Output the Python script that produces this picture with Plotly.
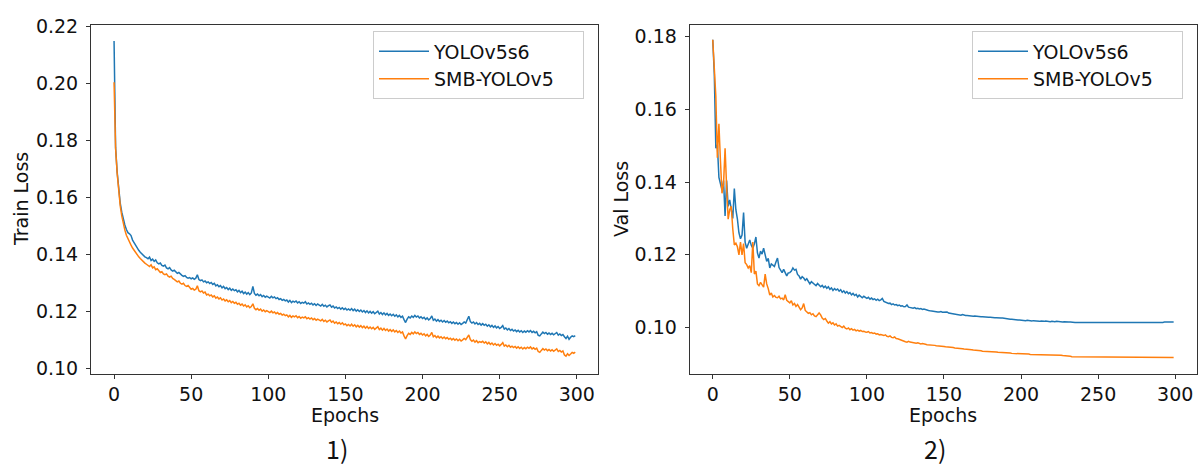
import plotly.graph_objects as go

epochs = list(range(300))

train_yolov5s6 = [
    0.2150, 0.1775, 0.1690, 0.1625, 0.1580, 0.1548, 0.1522, 0.1503, 0.1487, 0.1476,
    0.1472, 0.1466, 0.1450, 0.1440, 0.1430, 0.1421, 0.1414, 0.1407, 0.1401, 0.1396,
    0.1391, 0.1388, 0.1384, 0.1390, 0.1378, 0.1383, 0.1375, 0.1380, 0.1370, 0.1366,
    0.1369, 0.1361, 0.1358, 0.1362, 0.1352, 0.1349, 0.1353, 0.1345, 0.1341, 0.1344,
    0.1337, 0.1333, 0.1336, 0.1330, 0.1326, 0.1322, 0.1325, 0.1319, 0.1316, 0.1318,
    0.1314, 0.1317, 0.1312, 0.1316, 0.1328, 0.1311, 0.1307, 0.1310, 0.1303, 0.1306,
    0.1300, 0.1303, 0.1297, 0.1301, 0.1294, 0.1298, 0.1289, 0.1293, 0.1286, 0.1290,
    0.1282, 0.1287, 0.1279, 0.1283, 0.1276, 0.1281, 0.1273, 0.1278, 0.1272, 0.1275,
    0.1268, 0.1273, 0.1265, 0.1270, 0.1262, 0.1267, 0.1260, 0.1265, 0.1258, 0.1264,
    0.1287, 0.1262, 0.1256, 0.1260, 0.1254, 0.1258, 0.1251, 0.1255, 0.1249, 0.1253,
    0.1250, 0.1246, 0.1252, 0.1247, 0.1250, 0.1244, 0.1247, 0.1241, 0.1244, 0.1238,
    0.1241, 0.1236, 0.1239, 0.1232, 0.1238, 0.1230, 0.1235, 0.1232, 0.1236, 0.1229,
    0.1233, 0.1227, 0.1231, 0.1228, 0.1233, 0.1225, 0.1229, 0.1224, 0.1228, 0.1222,
    0.1226, 0.1220, 0.1225, 0.1221, 0.1218, 0.1224, 0.1217, 0.1221, 0.1215, 0.1219,
    0.1222, 0.1214, 0.1218, 0.1211, 0.1215, 0.1209, 0.1213, 0.1207, 0.1212, 0.1206,
    0.1210, 0.1204, 0.1208, 0.1203, 0.1209, 0.1202, 0.1207, 0.1200, 0.1205, 0.1199,
    0.1204, 0.1197, 0.1202, 0.1195, 0.1201, 0.1194, 0.1199, 0.1193, 0.1198, 0.1191,
    0.1196, 0.1200, 0.1190, 0.1195, 0.1188, 0.1194, 0.1187, 0.1192, 0.1185, 0.1190,
    0.1184, 0.1189, 0.1182, 0.1187, 0.1180, 0.1185, 0.1178, 0.1182, 0.1170, 0.1160,
    0.1172, 0.1180, 0.1176, 0.1183, 0.1178, 0.1185, 0.1179, 0.1183, 0.1176, 0.1180,
    0.1174, 0.1178, 0.1171, 0.1176, 0.1169, 0.1174, 0.1183, 0.1168, 0.1172, 0.1165,
    0.1170, 0.1164, 0.1168, 0.1162, 0.1167, 0.1161, 0.1165, 0.1159, 0.1163, 0.1157,
    0.1162, 0.1156, 0.1160, 0.1154, 0.1159, 0.1153, 0.1157, 0.1162, 0.1158, 0.1170,
    0.1182, 0.1163, 0.1158, 0.1162, 0.1155, 0.1160, 0.1153, 0.1157, 0.1151, 0.1156,
    0.1150, 0.1154, 0.1147, 0.1152, 0.1145, 0.1150, 0.1143, 0.1148, 0.1141, 0.1146,
    0.1139, 0.1143, 0.1149, 0.1137, 0.1141, 0.1134, 0.1139, 0.1132, 0.1136, 0.1130,
    0.1134, 0.1128, 0.1133, 0.1127, 0.1131, 0.1125, 0.1130, 0.1126, 0.1131, 0.1127,
    0.1132, 0.1125, 0.1129, 0.1124, 0.1128, 0.1115, 0.1113, 0.1120, 0.1126, 0.1121,
    0.1125, 0.1119, 0.1123, 0.1118, 0.1122, 0.1117, 0.1121, 0.1125, 0.1116, 0.1120,
    0.1114, 0.1118, 0.1110, 0.1104, 0.1112, 0.1101, 0.1108, 0.1113, 0.1110, 0.1114,
]

train_smb = [
    0.2005, 0.1772, 0.1686, 0.1618, 0.1570, 0.1535, 0.1507, 0.1485, 0.1467, 0.1453,
    0.1443, 0.1432, 0.1422, 0.1413, 0.1405, 0.1398, 0.1391, 0.1385, 0.1379, 0.1374,
    0.1369, 0.1365, 0.1361, 0.1357, 0.1363, 0.1352, 0.1356, 0.1346, 0.1349, 0.1340,
    0.1336, 0.1339, 0.1331, 0.1328, 0.1331, 0.1323, 0.1320, 0.1323, 0.1315, 0.1312,
    0.1306, 0.1303, 0.1306, 0.1298, 0.1295, 0.1298, 0.1290, 0.1287, 0.1290, 0.1282,
    0.1277, 0.1280, 0.1274, 0.1277, 0.1289, 0.1272, 0.1268, 0.1271, 0.1264, 0.1267,
    0.1257, 0.1260, 0.1254, 0.1257, 0.1250, 0.1254, 0.1246, 0.1250, 0.1243, 0.1247,
    0.1239, 0.1243, 0.1236, 0.1240, 0.1233, 0.1237, 0.1230, 0.1234, 0.1228, 0.1231,
    0.1224, 0.1228, 0.1221, 0.1225, 0.1218, 0.1222, 0.1215, 0.1219, 0.1212, 0.1216,
    0.1226, 0.1210, 0.1205, 0.1209, 0.1203, 0.1207, 0.1200, 0.1204, 0.1198, 0.1202,
    0.1199, 0.1195, 0.1200, 0.1194, 0.1197, 0.1191, 0.1195, 0.1189, 0.1192, 0.1186,
    0.1189, 0.1184, 0.1187, 0.1180, 0.1185, 0.1178, 0.1183, 0.1180, 0.1184, 0.1177,
    0.1181, 0.1175, 0.1179, 0.1176, 0.1180, 0.1173, 0.1177, 0.1172, 0.1176, 0.1170,
    0.1174, 0.1168, 0.1172, 0.1169, 0.1166, 0.1171, 0.1164, 0.1168, 0.1162, 0.1166,
    0.1169, 0.1161, 0.1165, 0.1158, 0.1162, 0.1156, 0.1160, 0.1154, 0.1159, 0.1152,
    0.1155, 0.1149, 0.1153, 0.1148, 0.1154, 0.1147, 0.1152, 0.1145, 0.1150, 0.1144,
    0.1149, 0.1142, 0.1147, 0.1140, 0.1146, 0.1139, 0.1144, 0.1138, 0.1143, 0.1136,
    0.1141, 0.1145, 0.1135, 0.1140, 0.1133, 0.1139, 0.1132, 0.1137, 0.1130, 0.1135,
    0.1129, 0.1134, 0.1127, 0.1132, 0.1125, 0.1130, 0.1123, 0.1127, 0.1113, 0.1102,
    0.1114, 0.1122, 0.1118, 0.1125, 0.1120, 0.1127, 0.1121, 0.1125, 0.1118, 0.1122,
    0.1116, 0.1120, 0.1113, 0.1118, 0.1111, 0.1116, 0.1125, 0.1110, 0.1114, 0.1107,
    0.1112, 0.1106, 0.1110, 0.1104, 0.1109, 0.1103, 0.1107, 0.1101, 0.1105, 0.1099,
    0.1104, 0.1098, 0.1102, 0.1096, 0.1101, 0.1095, 0.1099, 0.1104, 0.1100, 0.1108,
    0.1116, 0.1100, 0.1094, 0.1098, 0.1091, 0.1096, 0.1089, 0.1093, 0.1090, 0.1094,
    0.1088, 0.1092, 0.1085, 0.1090, 0.1083, 0.1088, 0.1081, 0.1086, 0.1080, 0.1084,
    0.1078, 0.1083, 0.1089, 0.1077, 0.1081, 0.1075, 0.1080, 0.1073, 0.1077, 0.1072,
    0.1076, 0.1070, 0.1075, 0.1069, 0.1073, 0.1067, 0.1072, 0.1068, 0.1073, 0.1069,
    0.1074, 0.1067, 0.1071, 0.1066, 0.1070, 0.1058, 0.1055, 0.1062, 0.1068, 0.1063,
    0.1067, 0.1061, 0.1065, 0.1060, 0.1064, 0.1059, 0.1063, 0.1067, 0.1058, 0.1062,
    0.1056, 0.1060, 0.1046, 0.1042, 0.1050, 0.1044, 0.1049, 0.1055, 0.1052, 0.1056,
]

val_yolov5s6 = [
    0.1791, 0.1698, 0.1493, 0.1502, 0.1413, 0.1395, 0.1378, 0.1404, 0.1307, 0.1404,
    0.1333, 0.1351, 0.1324, 0.1300, 0.1382, 0.1324, 0.1298, 0.1260, 0.1244, 0.1254,
    0.1316, 0.1235, 0.1218, 0.1232, 0.1241, 0.1226, 0.1218, 0.1230, 0.1249, 0.1205,
    0.1191, 0.1210, 0.1202, 0.1218, 0.1195, 0.1182, 0.1190, 0.1164, 0.1175, 0.1170,
    0.1168, 0.1180, 0.1191, 0.1165, 0.1158, 0.1151, 0.1160, 0.1148, 0.1142, 0.1150,
    0.1151, 0.1155, 0.1164, 0.1158, 0.1160, 0.1146, 0.1142, 0.1133, 0.1140, 0.1136,
    0.1130, 0.1134, 0.1128, 0.1120, 0.1126, 0.1122, 0.1118, 0.1115, 0.1121, 0.1117,
    0.1112, 0.1116, 0.1110, 0.1114, 0.1108, 0.1112, 0.1105, 0.1109, 0.1102, 0.1107,
    0.1103, 0.1106, 0.1100, 0.1104, 0.1097, 0.1101, 0.1095, 0.1099, 0.1093, 0.1096,
    0.1090, 0.1094, 0.1088, 0.1091, 0.1084, 0.1089, 0.1085, 0.1082, 0.1086, 0.1083,
    0.1080, 0.1083, 0.1078, 0.1081, 0.1077, 0.1079, 0.1075, 0.1078, 0.1074, 0.1076,
    0.1080, 0.1072, 0.1070, 0.1068, 0.1066, 0.1067, 0.1063, 0.1065, 0.1062, 0.1063,
    0.1060, 0.1062, 0.1059, 0.1060, 0.1057, 0.1058, 0.1062, 0.1056, 0.1055, 0.1054,
    0.1053, 0.1055, 0.1052, 0.1053, 0.1051, 0.1052, 0.1050, 0.1051, 0.1049, 0.1049,
    0.1047, 0.1046, 0.1045, 0.1045, 0.1044, 0.1044, 0.1043, 0.1043, 0.1044, 0.1042,
    0.1042, 0.1041, 0.1043, 0.1040, 0.1039, 0.1038, 0.1037, 0.1036, 0.1036, 0.1035,
    0.1035, 0.1034, 0.1036, 0.1034, 0.1033, 0.1033, 0.1032, 0.1033, 0.1032, 0.1031,
    0.1032, 0.1031, 0.1030, 0.1031, 0.1030, 0.1030, 0.1029, 0.1030, 0.1029, 0.1028,
    0.1028, 0.1027, 0.1028, 0.1027, 0.1027, 0.1026, 0.1027, 0.1026, 0.1026, 0.1025,
    0.1025, 0.1024, 0.1024, 0.1023, 0.1023, 0.1022, 0.1022, 0.1021, 0.1021, 0.1021,
    0.1020, 0.1020, 0.1020, 0.1019, 0.1020, 0.1019, 0.1019, 0.1018, 0.1019, 0.1018,
    0.1018, 0.1018, 0.1017, 0.1018, 0.1017, 0.1017, 0.1018, 0.1017, 0.1017, 0.1016,
    0.1017, 0.1016, 0.1016, 0.1017, 0.1016, 0.1016, 0.1016, 0.1015, 0.1016, 0.1015,
    0.1015, 0.1015, 0.1015, 0.1014, 0.1015, 0.1014, 0.1014, 0.1014, 0.1014, 0.1014,
    0.1014, 0.1013, 0.1014, 0.1013, 0.1013, 0.1013, 0.1013, 0.1013, 0.1013, 0.1013,
    0.1013, 0.1013, 0.1012, 0.1013, 0.1012, 0.1012, 0.1012, 0.1012, 0.1012, 0.1012,
    0.1012, 0.1012, 0.1012, 0.1012, 0.1012, 0.1012, 0.1012, 0.1012, 0.1012, 0.1012,
    0.1012, 0.1012, 0.1012, 0.1012, 0.1013, 0.1013, 0.1013, 0.1013, 0.1013, 0.1013,
    0.1013, 0.1013, 0.1013, 0.1013, 0.1013, 0.1014, 0.1014, 0.1014, 0.1014, 0.1014,
    0.1014, 0.1014, 0.1014, 0.1015, 0.1015, 0.1015, 0.1015, 0.1015, 0.1015, 0.1015,
]

val_smb = [
    0.1791, 0.1689, 0.1636, 0.1467, 0.1560, 0.1458, 0.1369, 0.1395, 0.1493, 0.1387,
    0.1298, 0.1324, 0.1333, 0.1271, 0.1227, 0.1232, 0.1222, 0.1200, 0.1235, 0.1200,
    0.1231, 0.1178, 0.1173, 0.1164, 0.1170, 0.1151, 0.1235, 0.1147, 0.1155, 0.1120,
    0.1115, 0.1124, 0.1118, 0.1111, 0.1147, 0.1120, 0.1107, 0.1089, 0.1095, 0.1084,
    0.1088, 0.1083, 0.1082, 0.1086, 0.1079, 0.1081, 0.1076, 0.1090, 0.1075, 0.1072,
    0.1068, 0.1074, 0.1062, 0.1066, 0.1058, 0.1063, 0.1055, 0.1049, 0.1054, 0.1066,
    0.1047, 0.1043, 0.1039, 0.1041, 0.1035, 0.1038, 0.1032, 0.1030, 0.1036, 0.1040,
    0.1035, 0.1026, 0.1022, 0.1025, 0.1018, 0.1012, 0.1016, 0.1010, 0.1013, 0.1007,
    0.1010, 0.1004, 0.1006, 0.1002, 0.1000, 0.1004, 0.0998, 0.0996, 0.0999, 0.0994,
    0.0997, 0.0993, 0.0995, 0.0991, 0.0993, 0.0990, 0.0992, 0.0989, 0.0990, 0.0988,
    0.0987, 0.0989, 0.0985, 0.0986, 0.0984, 0.0985, 0.0982, 0.0983, 0.0980, 0.0981,
    0.0979, 0.0978, 0.0980, 0.0976, 0.0975, 0.0977, 0.0973, 0.0972, 0.0974, 0.0970,
    0.0969, 0.0967, 0.0965, 0.0964, 0.0962, 0.0961, 0.0960, 0.0962, 0.0960, 0.0959,
    0.0960, 0.0958, 0.0957, 0.0958, 0.0956, 0.0955, 0.0956, 0.0954, 0.0954, 0.0953,
    0.0953, 0.0952, 0.0952, 0.0951, 0.0951, 0.0950, 0.0950, 0.0949, 0.0949, 0.0948,
    0.0948, 0.0947, 0.0947, 0.0946, 0.0946, 0.0945, 0.0945, 0.0944, 0.0944, 0.0943,
    0.0943, 0.0942, 0.0942, 0.0941, 0.0941, 0.0940, 0.0940, 0.0939, 0.0939, 0.0938,
    0.0938, 0.0937, 0.0937, 0.0936, 0.0936, 0.0935, 0.0935, 0.0934, 0.0934, 0.0934,
    0.0933, 0.0933, 0.0934, 0.0933, 0.0933, 0.0932, 0.0932, 0.0932, 0.0931, 0.0931,
    0.0931, 0.0930, 0.0930, 0.0930, 0.0929, 0.0929, 0.0929, 0.0929, 0.0928, 0.0928,
    0.0928, 0.0928, 0.0927, 0.0927, 0.0927, 0.0927, 0.0926, 0.0926, 0.0926, 0.0926,
    0.0926, 0.0926, 0.0925, 0.0925, 0.0925, 0.0925, 0.0925, 0.0925, 0.0925, 0.0925,
    0.0925, 0.0925, 0.0925, 0.0925, 0.0925, 0.0924, 0.0924, 0.0923, 0.0923, 0.0922,
    0.0922, 0.0921, 0.0921, 0.0920, 0.0920, 0.0920, 0.0919, 0.0919, 0.0919, 0.0919,
    0.0919, 0.0919, 0.0918, 0.0918, 0.0918, 0.0918, 0.0918, 0.0918, 0.0918, 0.0918,
    0.0918, 0.0918, 0.0918, 0.0918, 0.0918, 0.0918, 0.0918, 0.0918, 0.0918, 0.0918,
    0.0918, 0.0918, 0.0918, 0.0918, 0.0918, 0.0918, 0.0918, 0.0918, 0.0918, 0.0918,
    0.0918, 0.0918, 0.0918, 0.0918, 0.0918, 0.0918, 0.0918, 0.0918, 0.0918, 0.0918,
    0.0918, 0.0918, 0.0918, 0.0918, 0.0918, 0.0918, 0.0918, 0.0918, 0.0918, 0.0918,
    0.0918, 0.0918, 0.0918, 0.0918, 0.0918, 0.0918, 0.0918, 0.0918, 0.0918, 0.0918,
]

series_names = ["YOLOv5s6", "SMB-YOLOv5"]
colors = ["#1f77b4", "#ff7f0e"]
x_ticks = [0, 50, 100, 150, 200, 250, 300]
train_ticks = [0.10, 0.12, 0.14, 0.16, 0.18, 0.20, 0.22]
val_ticks = [0.10, 0.12, 0.14, 0.16, 0.18]
panel_labels = ["1)", "2)"]
y_titles = ["Train Loss", "Val Loss"]

W, H = 1202, 471
FONT = "DejaVu Sans"
AX = "#333333"
TXT = "#111111"
FS = 19

fig = go.Figure()
pad = "\u00a0\u00a0\u00a0\u00a0"
for ys, name, col in zip([train_yolov5s6, train_smb], series_names, colors):
    fig.add_trace(go.Scatter(x=epochs, y=ys, mode="lines", name=name + pad,
                             line=dict(color=col, width=1.5),
                             xaxis="x", yaxis="y", legend="legend"))
for ys, name, col in zip([val_yolov5s6, val_smb], series_names, colors):
    fig.add_trace(go.Scatter(x=epochs, y=ys, mode="lines", name=name + pad,
                             line=dict(color=col, width=1.5),
                             xaxis="x2", yaxis="y2", legend="legend2"))

ydom = [1 - 375.7 / H, 1 - 16 / H]
xd1 = [91 / W, 598.3 / W]
xd2 = [689.7 / W, 1196.7 / W]

axis_common = dict(showline=True, linecolor=AX, linewidth=1, mirror=True,
                   ticks="outside", ticklen=4, tickwidth=1, tickcolor=AX,
                   showgrid=False, zeroline=False,
                   tickfont=dict(family=FONT, size=FS, color=TXT))

legend_common = dict(xanchor="left", yanchor="top", bgcolor="white",
                     bordercolor="#cccccc", borderwidth=1, itemwidth=50,
                     font=dict(family=FONT, size=FS, color=TXT))

fig.update_layout(
    width=W, height=H,
    margin=dict(l=0, r=0, t=0, b=0),
    paper_bgcolor="white", plot_bgcolor="white",
    font=dict(family=FONT, size=FS, color=TXT),
    xaxis=dict(domain=xd1, range=[-14.95, 313.95], tickvals=x_ticks,
               anchor="y", **axis_common),
    yaxis=dict(domain=ydom, range=[0.09806, 0.2208], tickvals=train_ticks,
               tickformat=".2f", anchor="x", ticklabelstandoff=4, **axis_common),
    xaxis2=dict(domain=xd2, range=[-14.95, 313.95], tickvals=x_ticks,
                anchor="y2", **axis_common),
    yaxis2=dict(domain=ydom, range=[0.08736, 0.1833], tickvals=val_ticks,
                tickformat=".2f", anchor="x2", ticklabelstandoff=4, **axis_common),
    legend=dict(x=373 / W, y=1 - 23 / H, **legend_common),
    legend2=dict(x=972 / W, y=1 - 23 / H, **legend_common),
    showlegend=True,
)

annotations = []
for i, (xd, yt, pl) in enumerate(zip([xd1, xd2], y_titles, panel_labels)):
    cx = (xd[0] + xd[1]) / 2
    annotations.append(dict(text="Epochs", x=cx, y=1 - 418 / H, xref="paper", yref="paper",
                            showarrow=False, xanchor="center", yanchor="middle",
                            font=dict(family=FONT, size=FS, color=TXT)))
    annotations.append(dict(text=pl, x=cx - 8 / W, y=1 - 452 / H, xref="paper", yref="paper",
                            showarrow=False, xanchor="center", yanchor="middle",
                            font=dict(family="Noto Sans CJK SC", size=25, color=TXT)))
    tx = [21, 621][i]
    annotations.append(dict(text=yt, x=tx / W, y=(ydom[0] + ydom[1]) / 2, xref="paper", yref="paper",
                            showarrow=False, xanchor="center", yanchor="middle", textangle=-90,
                            font=dict(family=FONT, size=FS, color=TXT)))
fig.update_layout(annotations=annotations)

fig.write_html("out.html", config={"displayModeBar": False},
               post_script="document.body.style.margin='0';document.body.style.padding='0';")
